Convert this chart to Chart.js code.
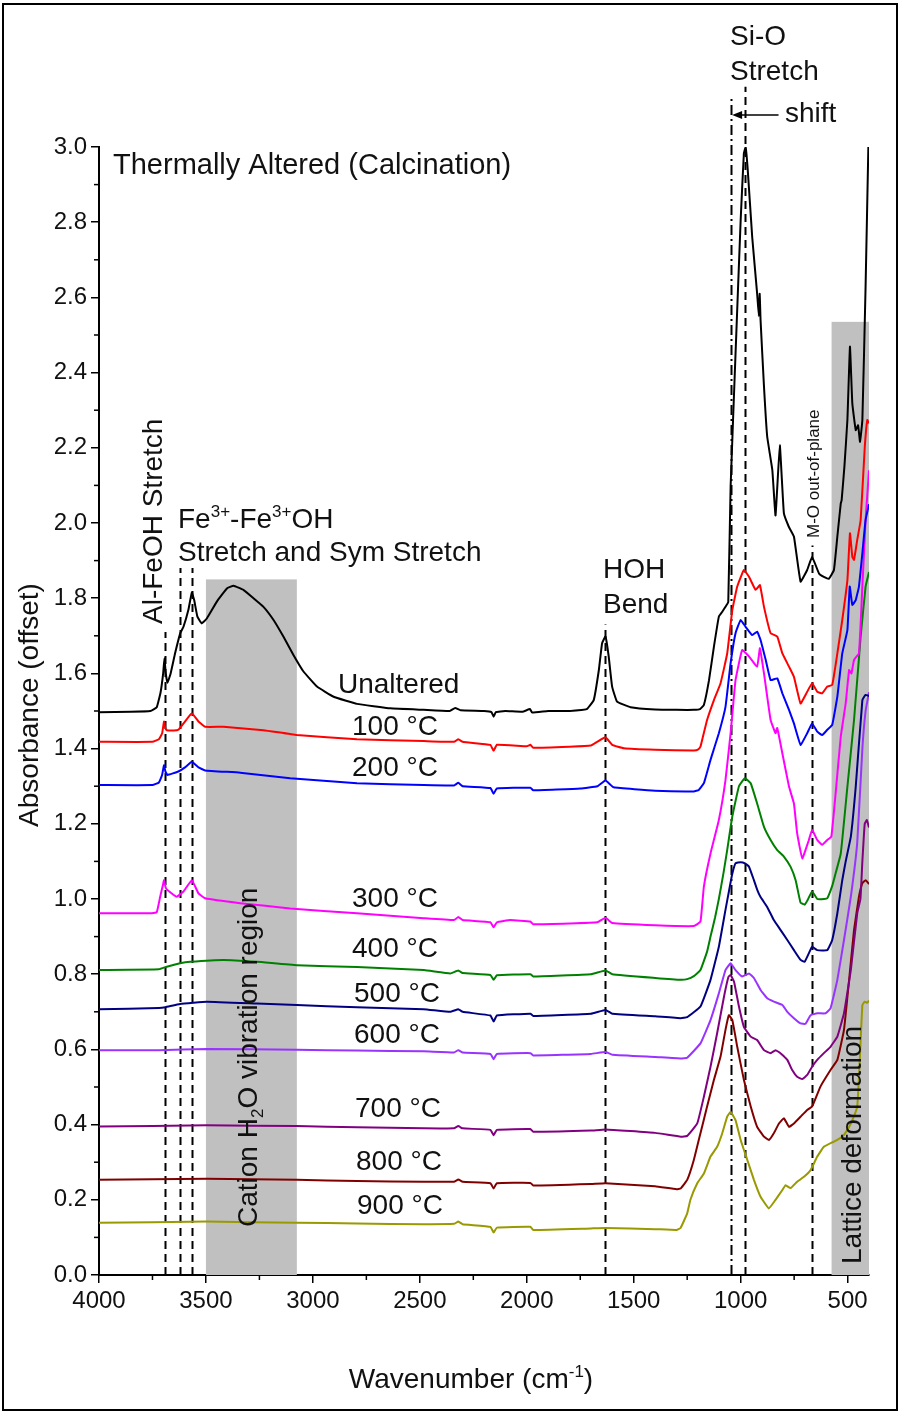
<!DOCTYPE html>
<html>
<head>
<meta charset="utf-8">
<script src="https://cdn.jsdelivr.net/npm/chart.js"></script>
<style>
  html, body { margin: 0; padding: 0; background: #fff; }
  canvas { display: block; }
</style>
</head>
<body>
<canvas id="chart" width="901" height="1414"></canvas>
<script>
// FTIR spectra, thermally altered clay (absorbance offset per temperature)
const unalteredWn = [4000, 3850, 3760, 3730, 3712, 3700, 3694, 3688, 3680, 3665, 3644, 3620, 3605, 3582, 3566, 3555, 3540, 3520, 3496, 3449, 3402, 3371, 3325, 3278, 3231, 3184, 3138, 3091, 3044, 2981, 2903, 2794, 2638, 2482, 2360, 2335, 2310, 2200, 2165, 2155, 2145, 2100, 2020, 1985, 1975, 1900, 1800, 1720, 1687, 1663, 1648, 1632, 1617, 1601, 1578, 1515, 1400, 1300, 1219, 1190, 1172, 1148, 1125, 1102, 1086, 1071, 1058, 1047, 1024, 1000, 985, 977, 967, 946, 923, 915, 911, 907, 891, 876, 852, 837, 817, 798, 775, 751, 720, 689, 666, 634, 611, 587, 564, 548, 532, 528, 515, 501, 489, 478, 462, 451, 442, 431, 416, 403];
const unalteredAbs = [1.497, 1.498, 1.50, 1.51, 1.55, 1.60, 1.64, 1.60, 1.575, 1.60, 1.654, 1.707, 1.724, 1.769, 1.815, 1.795, 1.751, 1.733, 1.746, 1.791, 1.826, 1.833, 1.822, 1.80, 1.777, 1.742, 1.698, 1.649, 1.605, 1.565, 1.538, 1.519, 1.507, 1.503, 1.50, 1.508, 1.502, 1.50, 1.497, 1.485, 1.497, 1.50, 1.498, 1.505, 1.496, 1.50, 1.50, 1.505, 1.529, 1.609, 1.68, 1.698, 1.645, 1.565, 1.525, 1.51, 1.504, 1.503, 1.503, 1.505, 1.516, 1.582, 1.671, 1.751, 1.764, 1.777, 1.79, 2.097, 2.45, 2.806, 2.983, 3.0, 2.94, 2.76, 2.61, 2.55, 2.61, 2.54, 2.363, 2.23, 2.141, 2.02, 2.207, 2.026, 1.99, 1.964, 1.844, 1.875, 1.91, 1.866, 1.857, 1.852, 1.875, 1.964, 2.052, 2.06, 2.15, 2.274, 2.469, 2.318, 2.247, 2.26, 2.216, 2.274, 2.628, 3.0];

const t100Wn = [4000, 3750, 3720, 3705, 3696, 3690, 3683, 3650, 3629, 3598, 3566, 3535, 3504, 3418, 3231, 3075, 2794, 2482, 2340, 2320, 2300, 2170, 2155, 2140, 2000, 1983, 1970, 1800, 1700, 1671, 1632, 1601, 1546, 1400, 1219, 1200, 1188, 1180, 1157, 1125, 1094, 1063, 1039, 1016, 985, 961, 930, 910, 891, 860, 829, 805, 774, 751, 720, 689, 666, 642, 619, 595, 572, 548, 525, 501, 489, 478, 470, 455, 439, 420, 408, 400];
const t100Abs = [1.418, 1.418, 1.425, 1.44, 1.472, 1.455, 1.449, 1.448, 1.45, 1.472, 1.494, 1.472, 1.458, 1.458, 1.449, 1.436, 1.425, 1.42, 1.418, 1.425, 1.418, 1.41, 1.394, 1.41, 1.406, 1.41, 1.402, 1.405, 1.408, 1.418, 1.43, 1.41, 1.401, 1.397, 1.395, 1.397, 1.405, 1.423, 1.476, 1.529, 1.574, 1.653, 1.769, 1.831, 1.875, 1.857, 1.822, 1.835, 1.777, 1.707, 1.698, 1.653, 1.618, 1.591, 1.52, 1.551, 1.574, 1.551, 1.547, 1.565, 1.569, 1.653, 1.742, 1.848, 1.973, 1.91, 1.902, 1.955, 2.008, 2.2, 2.274, 2.265];

const t200Wn = [4000, 3750, 3720, 3705, 3696, 3690, 3680, 3629, 3598, 3566, 3535, 3504, 3340, 3106, 2794, 2482, 2340, 2320, 2300, 2170, 2155, 2140, 1983, 1970, 1749, 1670, 1632, 1593, 1400, 1219, 1196, 1172, 1141, 1102, 1071, 1047, 1024, 1000, 977, 946, 923, 907, 883, 860, 829, 805, 774, 751, 720, 689, 666, 642, 619, 595, 572, 548, 525, 501, 490, 478, 462, 447, 431, 416, 400];
const t200Abs = [1.303, 1.303, 1.31, 1.33, 1.356, 1.34, 1.33, 1.339, 1.35, 1.365, 1.35, 1.342, 1.336, 1.321, 1.308, 1.303, 1.302, 1.309, 1.30, 1.295, 1.28, 1.294, 1.296, 1.289, 1.294, 1.30, 1.315, 1.297, 1.288, 1.286, 1.29, 1.308, 1.37, 1.441, 1.511, 1.627, 1.707, 1.742, 1.724, 1.702, 1.711, 1.689, 1.636, 1.582, 1.587, 1.547, 1.503, 1.467, 1.41, 1.441, 1.467, 1.445, 1.436, 1.45, 1.463, 1.538, 1.653, 1.715, 1.831, 1.782, 1.795, 1.831, 1.92, 2.008, 2.05];

const t300Wn = [4000, 3760, 3730, 3714, 3700, 3696, 3688, 3680, 3637, 3605, 3566, 3535, 3504, 3340, 3106, 2794, 2482, 2340, 2320, 2300, 2170, 2155, 2140, 2077, 1983, 1970, 1800, 1670, 1632, 1600, 1400, 1219, 1188, 1172, 1141, 1102, 1071, 1047, 1024, 993, 961, 923, 910, 891, 860, 837, 829, 805, 774, 751, 736, 712, 681, 666, 642, 619, 595, 576, 556, 532, 509, 493, 482, 470, 447, 431, 416, 400];
const t300Abs = [0.962, 0.962, 0.965, 1.006, 1.04, 1.05, 1.03, 1.024, 1.006, 1.02, 1.05, 1.015, 1.002, 0.989, 0.975, 0.962, 0.949, 0.944, 0.952, 0.944, 0.938, 0.925, 0.938, 0.944, 0.94, 0.933, 0.935, 0.938, 0.95, 0.936, 0.93, 0.928, 0.94, 1.033, 1.121, 1.21, 1.316, 1.441, 1.582, 1.662, 1.645, 1.618, 1.667, 1.60, 1.476, 1.441, 1.455, 1.387, 1.299, 1.254, 1.175, 1.108, 1.157, 1.184, 1.157, 1.144, 1.157, 1.166, 1.281, 1.432, 1.52, 1.609, 1.60, 1.636, 1.653, 1.831, 2.008, 2.14];

const t400Wn = [4000, 3720, 3683, 3621, 3574, 3418, 3262, 3075, 2794, 2482, 2358, 2320, 2300, 2170, 2155, 2140, 1983, 1970, 1700, 1632, 1600, 1400, 1280, 1250, 1219, 1188, 1157, 1141, 1120, 1102, 1080, 1063, 1039, 1008, 980, 953, 923, 891, 860, 829, 798, 767, 743, 720, 700, 689, 666, 642, 610, 595, 572, 560, 532, 501, 470, 439, 416, 400];
const t400Abs = [0.811, 0.813, 0.82, 0.829, 0.833, 0.838, 0.833, 0.824, 0.819, 0.811, 0.802, 0.81, 0.803, 0.798, 0.785, 0.797, 0.80, 0.794, 0.80, 0.81, 0.80, 0.79, 0.785, 0.787, 0.795, 0.811, 0.86, 0.90, 0.95, 1.00, 1.07, 1.13, 1.22, 1.30, 1.321, 1.308, 1.254, 1.192, 1.157, 1.13, 1.113, 1.086, 1.05, 0.99, 0.985, 0.995, 1.02, 1.0, 1.0, 1.002, 1.035, 1.06, 1.121, 1.299, 1.476, 1.698, 1.831, 1.87];

const t500Wn = [4000, 3720, 3690, 3621, 3496, 3262, 3075, 2794, 2482, 2358, 2320, 2300, 2170, 2155, 2140, 1983, 1970, 1700, 1632, 1600, 1400, 1280, 1250, 1188, 1141, 1102, 1071, 1055, 1040, 1024, 1000, 980, 961, 938, 923, 907, 876, 845, 814, 782, 751, 720, 701, 681, 666, 642, 595, 572, 548, 525, 509, 485, 462, 431, 416, 400];
const t500Abs = [0.707, 0.71, 0.712, 0.721, 0.727, 0.722, 0.718, 0.712, 0.707, 0.70, 0.707, 0.70, 0.69, 0.674, 0.69, 0.695, 0.689, 0.695, 0.705, 0.695, 0.688, 0.683, 0.686, 0.714, 0.785, 0.873, 0.971, 1.02, 1.065, 1.095, 1.098, 1.095, 1.086, 1.05, 1.025, 1.005, 0.979, 0.944, 0.918, 0.891, 0.864, 0.838, 0.833, 0.856, 0.873, 0.864, 0.864, 0.891, 0.962, 1.05, 1.10, 1.166, 1.299, 1.529, 1.543, 1.54];

const t600Wn = [4000, 3720, 3496, 3075, 2794, 2482, 2340, 2320, 2300, 2170, 2155, 2140, 1983, 1970, 1700, 1632, 1600, 1400, 1280, 1250, 1188, 1141, 1102, 1071, 1047, 1024, 993, 961, 938, 907, 876, 845, 805, 782, 751, 720, 697, 673, 642, 603, 580, 548, 517, 485, 455, 431, 416, 400];
const t600Abs = [0.598, 0.598, 0.601, 0.599, 0.597, 0.595, 0.592, 0.598, 0.592, 0.588, 0.574, 0.588, 0.59, 0.584, 0.588, 0.593, 0.586, 0.58, 0.576, 0.578, 0.616, 0.678, 0.749, 0.811, 0.829, 0.811, 0.794, 0.802, 0.79, 0.758, 0.736, 0.727, 0.718, 0.70, 0.683, 0.669, 0.668, 0.691, 0.696, 0.696, 0.709, 0.785, 0.891, 1.006, 1.15, 1.40, 1.50, 1.55];

const t700Wn = [4000, 3496, 3075, 2794, 2482, 2340, 2320, 2300, 2170, 2155, 2140, 1983, 1970, 1700, 1632, 1400, 1280, 1250, 1203, 1172, 1141, 1110, 1078, 1057, 1047, 1031, 1008, 985, 953, 923, 891, 860, 837, 814, 782, 759, 736, 712, 689, 666, 642, 611, 580, 548, 517, 485, 455, 440, 431, 420, 410, 400];
const t700Abs = [0.395, 0.398, 0.396, 0.393, 0.39, 0.39, 0.396, 0.39, 0.386, 0.372, 0.386, 0.388, 0.381, 0.384, 0.387, 0.378, 0.368, 0.37, 0.403, 0.474, 0.554, 0.643, 0.74, 0.793, 0.798, 0.78, 0.714, 0.66, 0.634, 0.625, 0.598, 0.59, 0.598, 0.59, 0.572, 0.545, 0.527, 0.521, 0.532, 0.554, 0.572, 0.59, 0.607, 0.634, 0.696, 0.811, 0.962, 1.0, 1.10, 1.20, 1.21, 1.19];

const t800Wn = [4000, 3496, 3075, 2794, 2482, 2340, 2320, 2300, 2170, 2155, 2140, 1983, 1970, 1700, 1632, 1400, 1300, 1281, 1250, 1219, 1188, 1157, 1125, 1094, 1071, 1055, 1039, 1016, 985, 953, 923, 891, 868, 845, 821, 798, 774, 751, 720, 689, 666, 627, 580, 548, 517, 493, 470, 447, 431, 416, 400];
const t800Abs = [0.253, 0.256, 0.253, 0.25, 0.248, 0.248, 0.254, 0.248, 0.244, 0.23, 0.244, 0.245, 0.238, 0.242, 0.244, 0.236, 0.228, 0.23, 0.253, 0.306, 0.377, 0.448, 0.519, 0.581, 0.652, 0.691, 0.678, 0.607, 0.519, 0.448, 0.394, 0.368, 0.359, 0.377, 0.403, 0.417, 0.394, 0.403, 0.421, 0.439, 0.448, 0.501, 0.545, 0.572, 0.652, 0.785, 0.918, 1.006, 1.042, 1.05, 1.04];

const t900Wn = [4000, 3496, 3075, 2794, 2482, 2340, 2320, 2300, 2170, 2155, 2140, 1983, 1970, 1700, 1632, 1400, 1300, 1281, 1250, 1235, 1203, 1172, 1141, 1110, 1086, 1063, 1047, 1024, 1000, 969, 938, 907, 868, 837, 805, 790, 767, 736, 704, 673, 642, 611, 564, 525, 501, 478, 455, 445, 431, 420, 408, 400];
const t900Abs = [0.139, 0.142, 0.139, 0.137, 0.135, 0.136, 0.142, 0.135, 0.128, 0.113, 0.126, 0.128, 0.12, 0.124, 0.125, 0.122, 0.12, 0.125, 0.164, 0.20, 0.244, 0.27, 0.315, 0.341, 0.377, 0.421, 0.434, 0.412, 0.359, 0.306, 0.253, 0.208, 0.177, 0.20, 0.226, 0.239, 0.231, 0.248, 0.261, 0.279, 0.315, 0.341, 0.355, 0.368, 0.386, 0.412, 0.448, 0.55, 0.718, 0.727, 0.724, 0.73];

const seriesNames = ['Unaltered', '100 °C', '200 °C', '300 °C', '400 °C', '500 °C', '600 °C', '700 °C', '800 °C', '900 °C'];
const seriesWn = [unalteredWn, t100Wn, t200Wn, t300Wn, t400Wn, t500Wn, t600Wn, t700Wn, t800Wn, t900Wn];
const seriesAbs = [unalteredAbs, t100Abs, t200Abs, t300Abs, t400Abs, t500Abs, t600Abs, t700Abs, t800Abs, t900Abs];
const seriesColors = ['#000000', '#ff0000', '#0000ff', '#ff00ff', '#008000', '#000080', '#9933ff', '#800080', '#800000', '#999900'];

// axis ticks
const xMajorTicks = [4000, 3500, 3000, 2500, 2000, 1500, 1000, 500];
const xMinorTicks = [3750, 3250, 2750, 2250, 1750, 1250, 750];
const yMajorTicks = [0, 0.2, 0.4, 0.6, 0.8, 1.0, 1.2, 1.4, 1.6, 1.8, 2.0, 2.2, 2.4, 2.6, 2.8, 3.0];
const yMinorTicks = [0.1, 0.3, 0.5, 0.7, 0.9, 1.1, 1.3, 1.5, 1.7, 1.9, 2.1, 2.3, 2.5, 2.7, 2.9];

// shaded regions [from wn, to wn, height] and band markers [wn, top]
const shadedRegions = [[3500, 3075, 1.85], [575, 400, 2.535]];
const dashedBands = [[3690, 1.71], [3620, 1.88], [3563, 1.88], [1632, 1.73], [978, 3.16], [667, 1.94]];
const dashDotBands = [[1047, 3.13]];
const shiftArrow = [823, 1040, 3.085];

const FONT = "'Liberation Sans', Arial, Helvetica, sans-serif";

function font(size) { return size + 'px ' + FONT; }

// draws text made of normal / superscript / subscript parts, optionally rotated
function richText(ctx, parts, x, y, size, rot, align) {
  ctx.save();
  ctx.translate(x, y);
  if (rot) ctx.rotate(rot);
  ctx.textBaseline = 'alphabetic';
  ctx.textAlign = 'left';
  const small = Math.round(size * 0.62);
  let w = 0;
  for (const p of parts) {
    ctx.font = font(p.sup || p.sub ? small : size);
    w += ctx.measureText(p.t).width;
  }
  let cx = align === 'center' ? -w / 2 : 0;
  for (const p of parts) {
    const sz = p.sup || p.sub ? small : size;
    ctx.font = font(sz);
    const dy = p.sup ? -size * 0.4 : p.sub ? size * 0.22 : 0;
    ctx.fillText(p.t, cx, dy);
    cx += ctx.measureText(p.t).width;
  }
  ctx.restore();
}

const decorations = {
  id: 'decorations',
  beforeDraw(chart) {
    const ctx = chart.ctx;
    ctx.save();
    ctx.fillStyle = '#ffffff';
    ctx.fillRect(0, 0, chart.width, chart.height);
    ctx.restore();
  },
  beforeDatasetsDraw(chart) {
    const { ctx, scales: { x, y } } = chart;
    ctx.save();
    ctx.fillStyle = '#c0c0c0';
    for (const r of shadedRegions) {
      const x0 = x.getPixelForValue(r[0]), x1 = x.getPixelForValue(r[1]);
      const yb = y.getPixelForValue(0), yt = y.getPixelForValue(r[2]);
      ctx.fillRect(Math.min(x0, x1), yt, Math.abs(x1 - x0), yb - yt);
    }
    ctx.strokeStyle = '#000';
    ctx.lineWidth = 2;
    ctx.setLineDash([8, 5]);
    for (const b of dashedBands) {
      const px = Math.round(x.getPixelForValue(b[0])) + 0.5;
      ctx.beginPath();
      ctx.moveTo(px, y.getPixelForValue(0));
      ctx.lineTo(px, y.getPixelForValue(b[1]));
      ctx.stroke();
    }
    ctx.setLineDash([10, 4, 2, 4]);
    for (const b of dashDotBands) {
      const px = Math.round(x.getPixelForValue(b[0])) + 0.5;
      ctx.beginPath();
      ctx.moveTo(px, y.getPixelForValue(0));
      ctx.lineTo(px, y.getPixelForValue(b[1]));
      ctx.stroke();
    }
    ctx.restore();
  },
  afterDraw(chart) {
    const { ctx, scales: { x, y }, chartArea } = chart;
    ctx.save();
    // minor ticks
    ctx.strokeStyle = '#000';
    ctx.lineWidth = 1.5;
    for (const v of xMinorTicks) {
      const p = x.getPixelForValue(v);
      ctx.beginPath(); ctx.moveTo(p, chartArea.bottom); ctx.lineTo(p, chartArea.bottom + 5); ctx.stroke();
    }
    for (const v of yMinorTicks) {
      const p = y.getPixelForValue(v);
      ctx.beginPath(); ctx.moveTo(chartArea.left, p); ctx.lineTo(chartArea.left - 5, p); ctx.stroke();
    }

    // shift arrow
    const ay = y.getPixelForValue(shiftArrow[2]);
    const ax0 = x.getPixelForValue(shiftArrow[0]), ax1 = x.getPixelForValue(shiftArrow[1]);
    ctx.lineWidth = 1.5;
    ctx.beginPath(); ctx.moveTo(ax0, ay); ctx.lineTo(ax1 + 6, ay); ctx.stroke();
    ctx.fillStyle = '#000';
    ctx.beginPath();
    ctx.moveTo(ax1, ay); ctx.lineTo(ax1 + 10, ay - 4); ctx.lineTo(ax1 + 10, ay + 4); ctx.closePath(); ctx.fill();

    // annotations
    ctx.fillStyle = '#111';
    const S = 28;
    richText(ctx, [{ t: 'Thermally Altered (Calcination)' }], 113, 174, 29);
    richText(ctx, [{ t: 'Si-O' }], 730, 45, S);
    richText(ctx, [{ t: 'Stretch' }], 730, 80, S);
    richText(ctx, [{ t: 'shift' }], 785, 122, S);
    richText(ctx, [{ t: 'Fe' }, { t: '3+', sup: true }, { t: '-Fe' }, { t: '3+', sup: true }, { t: 'OH' }], 178, 528, S);
    richText(ctx, [{ t: 'Stretch and Sym Stretch' }], 178, 561, S);
    richText(ctx, [{ t: 'HOH' }], 603, 578, S);
    richText(ctx, [{ t: 'Bend' }], 603, 613, S);
    richText(ctx, [{ t: 'Al-FeOH Stretch' }], 162, 624, S, -Math.PI / 2);
    richText(ctx, [{ t: 'Cation H' }, { t: '2', sub: true }, { t: 'O vibration region' }], 257, 1227, S, -Math.PI / 2);
    richText(ctx, [{ t: 'Lattice deformation' }], 861, 1264, S, -Math.PI / 2);
    richText(ctx, [{ t: 'M-O out-of-plane' }], 819, 538, 17, -Math.PI / 2);

    const labelPos = [[338, 693], [352, 735], [352, 776], [352, 907], [352, 957], [354, 1002], [354, 1043], [355, 1117], [356, 1170], [357, 1214]];
    seriesNames.forEach((n, i) => richText(ctx, [{ t: n }], labelPos[i][0], labelPos[i][1], S));

    // axis titles
    richText(ctx, [{ t: 'Absorbance (offset)' }], 38, 705, S, -Math.PI / 2, 'center');
    richText(ctx, [{ t: 'Wavenumber (cm' }, { t: '-1', sup: true }, { t: ')' }], 471, 1388, S, 0, 'center');

    // outer frame
    ctx.strokeStyle = '#000';
    ctx.lineWidth = 2;
    ctx.strokeRect(3, 4, 894, 1406);
    ctx.restore();
  }
};

new Chart(document.getElementById('chart'), {
  type: 'line',
  data: {
    datasets: seriesNames.map((name, i) => ({
      label: name,
      data: seriesWn[i].map((w, k) => ({ x: w, y: seriesAbs[i][k] })),
      borderColor: seriesColors[i],
      borderWidth: 2,
      pointRadius: 0,
      tension: 0.1,
      fill: false
    }))
  },
  options: {
    responsive: false,
    animation: false,
    devicePixelRatio: 1,
    layout: { padding: { left: 0, top: 147, right: 32, bottom: 0 } },
    plugins: { legend: { display: false }, tooltip: { enabled: false } },
    scales: {
      x: {
        type: 'linear',
        reverse: true,
        min: 400,
        max: 4000,
        afterBuildTicks: s => { s.ticks = xMajorTicks.map(v => ({ value: v })); },
        afterFit: s => { s.height = 139; },
        ticks: { color: '#111', font: { family: FONT, size: 24 }, padding: 4, maxRotation: 0, autoSkip: false, callback: v => String(v) },
        grid: { drawOnChartArea: false, drawTicks: true, tickLength: 8, color: '#000', lineWidth: 1.5 },
        border: { display: true, color: '#000', width: 2 }
      },
      y: {
        type: 'linear',
        min: 0,
        max: 3,
        afterBuildTicks: s => { s.ticks = yMajorTicks.map(v => ({ value: v })); },
        afterFit: s => { s.width = 99; },
        ticks: { color: '#111', font: { family: FONT, size: 24 }, padding: 4, callback: v => v.toFixed(1) },
        grid: { drawOnChartArea: false, drawTicks: true, tickLength: 8, color: '#000', lineWidth: 1.5 },
        border: { display: true, color: '#000', width: 2 }
      }
    }
  },
  plugins: [decorations]
});
</script>
</body>
</html>
